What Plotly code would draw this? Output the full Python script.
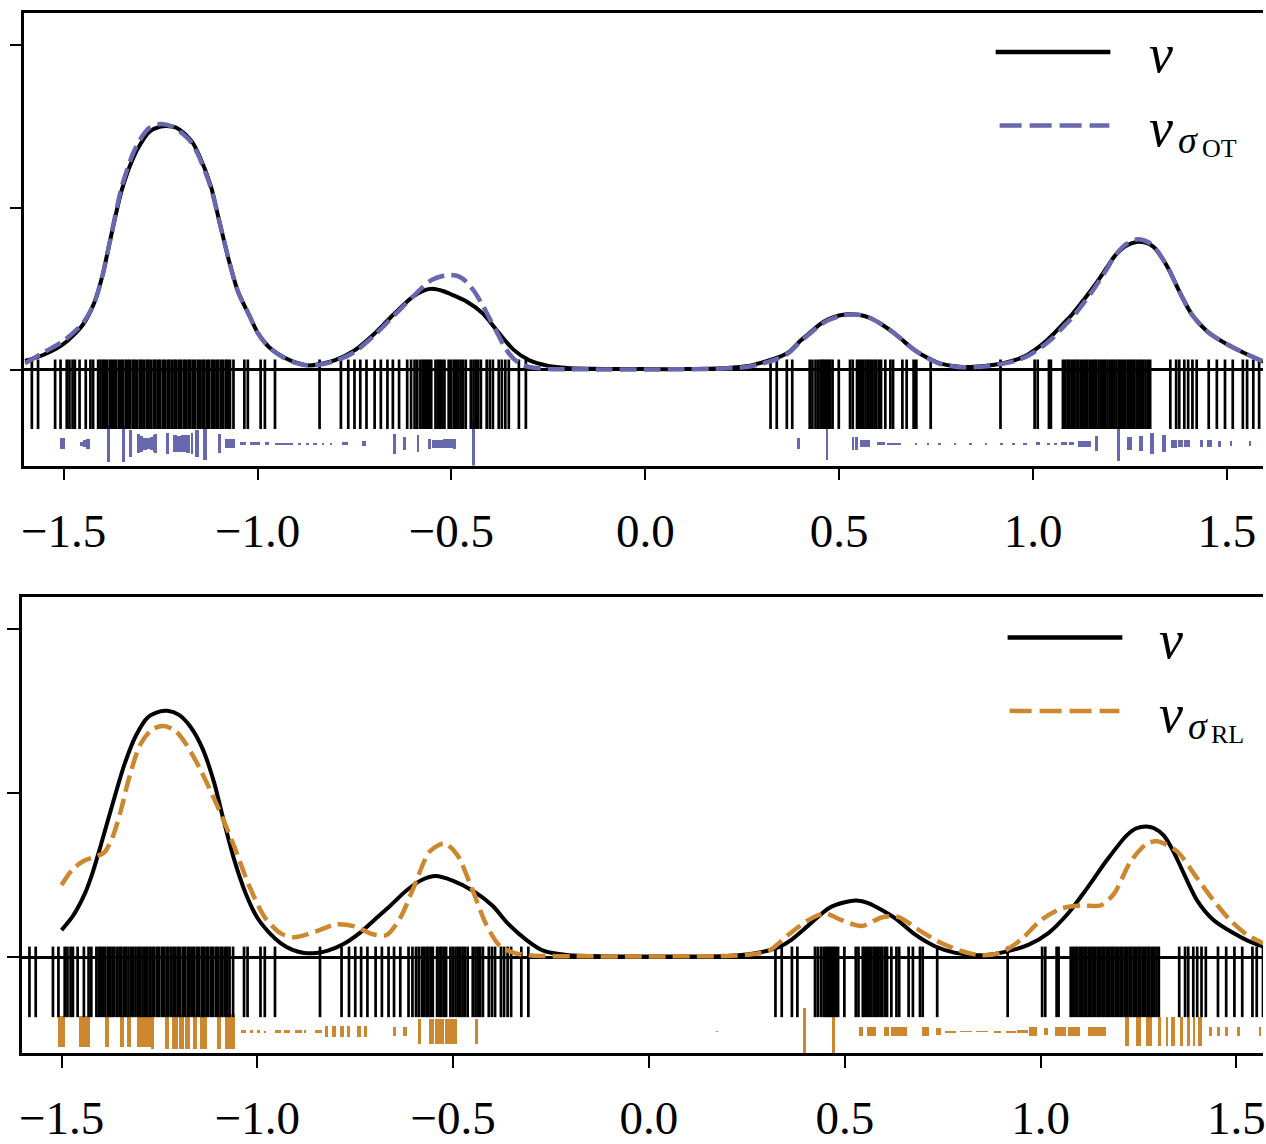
import plotly.graph_objects as go

# ---------------- data ----------------
xtick_vals = [-1.5, -1.0, -0.5, 0.0, 0.5, 1.0, 1.5]
xtick_text = ["\u22121.5", "\u22121.0", "\u22120.5", "0.0", "0.5", "1.0", "1.5"]
ytick_vals = [0, 1, 2]

# samples of nu (black rug, same in both panels)
rug_samples = [
    -1.582, -1.566, -1.522, -1.508, -1.492, -1.485, -1.477, -1.471, -1.459, -1.443, -1.431, -1.424, -1.411,
    -1.405, -1.399, -1.394, -1.388, -1.381, -1.376, -1.370, -1.365, -1.358, -1.352, -1.347, -1.340, -1.335,
    -1.329, -1.322, -1.317, -1.311, -1.304, -1.299, -1.293, -1.286, -1.281, -1.275, -1.268, -1.263, -1.256,
    -1.251, -1.244, -1.239, -1.232, -1.227, -1.220, -1.214, -1.209, -1.202, -1.197, -1.190, -1.185, -1.178,
    -1.173, -1.166, -1.161, -1.154, -1.149, -1.142, -1.137, -1.130, -1.125, -1.118, -1.113, -1.106, -1.101,
    -1.094, -1.089, -1.082, -1.077, -1.071,
    -1.062, -1.034, -1.025, -0.992, -0.981, -0.955,
    -0.840, -0.785, -0.766, -0.750, -0.735, -0.719, -0.698, -0.682, -0.665, -0.651, -0.635, -0.614, -0.604,
    -0.595, -0.588, -0.580, -0.574, -0.568, -0.563, -0.557, -0.552, -0.541, -0.535, -0.530, -0.524, -0.518,
    -0.507, -0.501, -0.494, -0.488, -0.482, -0.476, -0.470, -0.463, -0.450, -0.443, -0.437, -0.431, -0.424,
    -0.409, -0.401, -0.393, -0.378, -0.370, -0.361, -0.352, -0.326, -0.308,
    0.323, 0.339, 0.365, 0.379, 0.424, 0.431, 0.439, 0.446, 0.452, 0.457, 0.462, 0.467, 0.472, 0.477, 0.483,
    0.499, 0.528, 0.535,
    0.546, 0.551, 0.557, 0.562, 0.568, 0.574, 0.579, 0.585, 0.591, 0.596, 0.603, 0.608, 0.619, 0.632, 0.639,
    0.663, 0.674, 0.692, 0.699, 0.736,
    0.916, 1.004, 1.012, 1.041, 1.046,
    1.077, 1.083, 1.089, 1.094, 1.100, 1.106, 1.112, 1.117, 1.123, 1.129, 1.135, 1.140, 1.146, 1.152, 1.158,
    1.163, 1.169, 1.175, 1.181, 1.186, 1.192, 1.198, 1.204, 1.209, 1.215, 1.221, 1.227, 1.232, 1.238, 1.244,
    1.250, 1.255, 1.261, 1.267, 1.273, 1.278, 1.284, 1.290, 1.296, 1.302,
    1.354, 1.369, 1.377, 1.390, 1.400, 1.411, 1.422, 1.453, 1.474, 1.495, 1.515, 1.541, 1.552, 1.568, 1.583,
]

# top panel: density of nu
top_nu_x = [-1.60, -1.55, -1.50, -1.45, -1.42, -1.40, -1.38, -1.35, -1.32, -1.30, -1.28, -1.25, -1.22, -1.20,
            -1.17, -1.15, -1.12, -1.10, -1.07, -1.05, -1.02, -1.00, -0.97, -0.93, -0.90, -0.87, -0.84, -0.80,
            -0.75, -0.70, -0.65, -0.60, -0.57, -0.55, -0.52, -0.50, -0.46, -0.42, -0.38, -0.34, -0.30, -0.25,
            -0.20, -0.10, 0.00, 0.10, 0.20, 0.26, 0.30, 0.34, 0.37, 0.40, 0.42, 0.45, 0.47, 0.50, 0.52, 0.55,
            0.58, 0.61, 0.64, 0.66, 0.69, 0.71, 0.74, 0.76, 0.80, 0.82, 0.85, 0.88, 0.92, 0.95, 0.98, 1.00,
            1.03, 1.05, 1.08, 1.10, 1.13, 1.16, 1.19, 1.21, 1.24, 1.27, 1.29, 1.31, 1.33, 1.35, 1.38, 1.41,
            1.45, 1.50, 1.55, 1.60]
top_nu_y = [0.055, 0.095, 0.16, 0.28, 0.42, 0.58, 0.80, 1.11, 1.31, 1.40, 1.465, 1.50, 1.50, 1.48,
            1.41, 1.32, 1.13, 0.93, 0.64, 0.48, 0.33, 0.23, 0.14, 0.075, 0.045, 0.028, 0.035, 0.06,
            0.12, 0.22, 0.34, 0.45, 0.49, 0.50, 0.485, 0.465, 0.42, 0.35, 0.235, 0.125, 0.06, 0.025,
            0.012, 0.006, 0.005, 0.005, 0.01, 0.022, 0.045, 0.075, 0.11, 0.18, 0.22, 0.28, 0.31, 0.335, 0.343, 0.34,
            0.32, 0.28, 0.23, 0.19, 0.13, 0.098, 0.06, 0.04, 0.022, 0.018, 0.02, 0.025, 0.04, 0.058, 0.085, 0.115,
            0.17, 0.215, 0.29, 0.34, 0.43, 0.525, 0.63, 0.70, 0.765, 0.79, 0.785, 0.76, 0.70, 0.62, 0.47, 0.34,
            0.235, 0.158, 0.098, 0.045]

# top panel: density of nu_sigma_OT
top_ot_x = [-1.60, -1.55, -1.50, -1.45, -1.42, -1.40, -1.38, -1.35, -1.32, -1.30, -1.28, -1.25, -1.22, -1.20,
            -1.17, -1.15, -1.12, -1.10, -1.07, -1.05, -1.02, -1.00, -0.97, -0.93, -0.90, -0.87, -0.84, -0.80,
            -0.75, -0.70, -0.65, -0.60, -0.57, -0.55, -0.52, -0.50, -0.48, -0.46, -0.44, -0.42, -0.40, -0.38,
            -0.36, -0.34, -0.32, -0.30, -0.25, -0.20, -0.10, 0.00, 0.10, 0.20, 0.26, 0.30, 0.34, 0.37, 0.40,
            0.42, 0.45, 0.47, 0.50, 0.52, 0.55, 0.58, 0.61, 0.64, 0.66, 0.69, 0.71, 0.74, 0.76, 0.80, 0.82,
            0.85, 0.88, 0.92, 0.95, 0.98, 1.00, 1.03, 1.05, 1.08, 1.10, 1.13, 1.16, 1.19, 1.21, 1.24, 1.27,
            1.29, 1.31, 1.33, 1.35, 1.38, 1.41, 1.45, 1.50, 1.55, 1.60]
top_ot_y = [0.04, 0.11, 0.18, 0.29, 0.42, 0.58, 0.80, 1.13, 1.34, 1.43, 1.49, 1.515, 1.50, 1.47,
            1.40, 1.31, 1.12, 0.93, 0.64, 0.48, 0.33, 0.23, 0.14, 0.072, 0.042, 0.027, 0.032, 0.055,
            0.11, 0.21, 0.33, 0.45, 0.52, 0.555, 0.58, 0.585, 0.575, 0.54, 0.48, 0.40, 0.31, 0.22,
            0.13, 0.07, 0.035, 0.018, 0.006, 0.004, 0.003, 0.003, 0.004, 0.008, 0.018, 0.038, 0.068, 0.105, 0.175,
            0.215, 0.275, 0.305, 0.33, 0.34, 0.34, 0.32, 0.28, 0.23, 0.19, 0.13, 0.098, 0.058, 0.038, 0.02, 0.016,
            0.018, 0.023, 0.037, 0.053, 0.078, 0.105, 0.155, 0.195, 0.27, 0.32, 0.41, 0.51, 0.62, 0.70, 0.775, 0.805,
            0.795, 0.765, 0.70, 0.62, 0.47, 0.34, 0.235, 0.158, 0.098, 0.045]

# bottom panel: density of nu
bot_nu_x = [-1.50, -1.47, -1.44, -1.42, -1.40, -1.37, -1.34, -1.31, -1.28, -1.25, -1.23, -1.20, -1.17, -1.14,
            -1.11, -1.09, -1.06, -1.03, -1.00, -0.97, -0.94, -0.91, -0.88, -0.85, -0.82, -0.78, -0.74, -0.70,
            -0.66, -0.62, -0.58, -0.545, -0.50, -0.45, -0.40, -0.36, -0.31, -0.27, -0.21, -0.10, 0.00, 0.10,
            0.20, 0.25, 0.30, 0.33, 0.36, 0.41, 0.46, 0.50, 0.53, 0.56, 0.60, 0.63, 0.68, 0.73, 0.78, 0.84,
            0.90, 0.97, 1.02, 1.07, 1.12, 1.17, 1.22, 1.245, 1.27, 1.29, 1.315, 1.34, 1.36, 1.40, 1.44, 1.49,
            1.53, 1.57, 1.60]
bot_nu_y = [0.165, 0.255, 0.39, 0.52, 0.68, 0.93, 1.17, 1.35, 1.46, 1.495, 1.50, 1.475, 1.40, 1.27,
            1.06, 0.87, 0.60, 0.39, 0.24, 0.15, 0.085, 0.045, 0.026, 0.026, 0.04, 0.08, 0.145, 0.23,
            0.315, 0.405, 0.47, 0.494, 0.465, 0.405, 0.315, 0.205, 0.10, 0.04, 0.013, 0.005, 0.004, 0.004,
            0.008, 0.016, 0.038, 0.06, 0.10, 0.20, 0.30, 0.335, 0.345, 0.33, 0.28, 0.235, 0.137, 0.067, 0.028, 0.012,
            0.028, 0.077, 0.147, 0.266, 0.424, 0.593, 0.742, 0.785, 0.796, 0.785, 0.74, 0.64, 0.54, 0.345, 0.23, 0.15,
            0.10, 0.065, 0.045]

# bottom panel: density of nu_sigma_RL
bot_rl_x = [-1.50, -1.47, -1.44, -1.41, -1.39, -1.37, -1.35, -1.33, -1.30, -1.27, -1.24, -1.21, -1.18, -1.145,
            -1.10, -1.06, -1.02, -0.98, -0.94, -0.905, -0.85, -0.80, -0.75, -0.705, -0.67, -0.635, -0.60, -0.56,
            -0.523, -0.49, -0.45, -0.415, -0.38, -0.34, -0.30, -0.20, 0.00, 0.20, 0.25, 0.305, 0.356, 0.407,
            0.45, 0.492, 0.543, 0.594, 0.636, 0.695, 0.746, 0.797, 0.848, 0.899, 0.95, 1.001, 1.052, 1.103,
            1.153, 1.187, 1.23, 1.272, 1.298, 1.349, 1.399, 1.442, 1.484, 1.527, 1.567, 1.60]
bot_rl_y = [0.44, 0.54, 0.59, 0.615, 0.64, 0.73, 0.88, 1.07, 1.29, 1.385, 1.407, 1.38, 1.29, 1.14,
            0.91, 0.68, 0.43, 0.24, 0.145, 0.121, 0.157, 0.20, 0.187, 0.14, 0.135, 0.24, 0.43, 0.643,
            0.693, 0.625, 0.405, 0.196, 0.067, 0.024, 0.01, 0.006, 0.005, 0.008, 0.015, 0.038, 0.137, 0.226,
            0.266, 0.226, 0.19, 0.242, 0.246, 0.157, 0.087, 0.038, 0.012, 0.028, 0.107, 0.226, 0.296, 0.315,
            0.315, 0.385, 0.583, 0.692, 0.706, 0.643, 0.484, 0.345, 0.226, 0.137, 0.087, 0.06]

# weighted support points of nu_sigma_OT: position, extent along x, mass
ot_x = [-1.501, -1.452, -1.444, -1.436, -1.383, -1.345, -1.326, -1.305, -1.297, -1.289, -1.281, -1.273, -1.266,
        -1.261, -1.231, -1.212, -1.201, -1.189, -1.178, -1.167, -1.155, -1.135, -1.097, -1.070, -1.036, -1.005,
        -0.975, -0.930, -0.890, -0.870, -0.850, -0.830, -0.810, -0.774, -0.725, -0.646, -0.619, -0.585, -0.555,
        -0.535, -0.507, -0.491, -0.442,
        0.397, 0.470, 0.537, 0.546, 0.568, 0.610, 0.642, 0.700, 0.730, 0.760, 0.800, 0.840, 0.880, 0.920, 0.950,
        0.980, 1.015, 1.040, 1.060, 1.080, 1.100, 1.134, 1.165, 1.222, 1.250, 1.279, 1.308, 1.339, 1.365, 1.381,
        1.398, 1.435, 1.456, 1.482, 1.512, 1.560]
ot_span = [0.014, 0.008, 0.008, 0.008, 0.007, 0.007, 0.007, 0.008, 0.008, 0.008, 0.008, 0.008, 0.007,
           0.005, 0.007, 0.011, 0.011, 0.012, 0.008, 0.006, 0.009, 0.011, 0.008, 0.025, 0.016, 0.026,
           0.010, 0.045, 0.008, 0.008, 0.010, 0.006, 0.006, 0.016, 0.010, 0.008, 0.008, 0.007, 0.009,
           0.028, 0.028, 0.006, 0.006,
           0.007, 0.007, 0.006, 0.006, 0.024, 0.020, 0.035, 0.006, 0.006, 0.008, 0.006, 0.006, 0.006, 0.008, 0.008,
           0.010, 0.010, 0.008, 0.008, 0.015, 0.012, 0.032, 0.008, 0.007, 0.012, 0.011, 0.009, 0.009, 0.014, 0.014,
           0.016, 0.009, 0.011, 0.008, 0.006, 0.006]
ot_mass = [0.065, 0.025, 0.04, 0.06, 0.23, 0.22, 0.165, 0.12, 0.10, 0.075, 0.065, 0.08, 0.105,
           0.12, 0.128, 0.105, 0.10, 0.105, 0.11, 0.13, 0.165, 0.205, 0.118, 0.055, 0.02, 0.02,
           0.015, 0.01, 0.006, 0.006, 0.006, 0.005, 0.005, 0.015, 0.03, 0.124, 0.081, 0.105, 0.06,
           0.05, 0.055, 0.06, 0.29,
           0.07, 0.20, 0.08, 0.08, 0.04, 0.02, 0.012, 0.008, 0.006, 0.006, 0.005, 0.005, 0.005, 0.006, 0.008,
           0.008, 0.015, 0.01, 0.012, 0.02, 0.02, 0.038, 0.09, 0.217, 0.081, 0.09, 0.128, 0.105, 0.05, 0.04,
           0.045, 0.04, 0.04, 0.035, 0.03, 0.03]

# weighted support points of nu_sigma_RL
rl_x = [-1.4995, -1.441, -1.384, -1.346, -1.327, -1.290, -1.268, -1.2315, -1.210, -1.193, -1.178, -1.160,
        -1.138, -1.099, -1.070, -1.036, -1.015, -0.998, -0.980, -0.948, -0.925, -0.895, -0.878, -0.845,
        -0.824, -0.805, -0.784, -0.768, -0.740, -0.7235, -0.649, -0.623, -0.586, -0.555, -0.535, -0.510,
        -0.495, -0.440,
        0.175, 0.397, 0.4715, 0.5415, 0.568, 0.607, 0.638, 0.706, 0.740, 0.770, 0.810, 0.850, 0.890, 0.925,
        0.953, 0.981, 1.013, 1.051, 1.0845, 1.1435, 1.2215, 1.2505, 1.2775, 1.304, 1.323, 1.338, 1.359,
        1.377, 1.392, 1.407, 1.435, 1.455, 1.475, 1.506, 1.560]
rl_span = [0.019, 0.027, 0.010, 0.010, 0.010, 0.036, 0.008, 0.011, 0.016, 0.012, 0.012, 0.010,
           0.018, 0.010, 0.026, 0.014, 0.010, 0.008, 0.004, 0.016, 0.016, 0.020, 0.006, 0.018,
           0.007, 0.010, 0.008, 0.008, 0.009, 0.007, 0.008, 0.008, 0.008, 0.014, 0.022, 0.022,
           0.008, 0.008,
           0.003, 0.008, 0.008, 0.012, 0.022, 0.014, 0.040, 0.018, 0.012, 0.030, 0.030, 0.030, 0.020, 0.025,
           0.028, 0.021, 0.010, 0.026, 0.031, 0.047, 0.011, 0.013, 0.015, 0.007, 0.006, 0.009, 0.007,
           0.007, 0.007, 0.008, 0.008, 0.007, 0.008, 0.008, 0.006]
rl_mass = [0.19, 0.19, 0.19, 0.19, 0.19, 0.19, 0.215, 0.21, 0.21, 0.21, 0.21, 0.21,
           0.21, 0.21, 0.21, 0.024, 0.02, 0.02, 0.012, 0.02, 0.02, 0.018, 0.015, 0.02,
           0.065, 0.065, 0.065, 0.065, 0.065, 0.065, 0.06, 0.06, 0.15, 0.15, 0.15, 0.15,
           0.15, 0.15,
           0.006, 0.29, 0.29, 0.05, 0.05, 0.05, 0.05, 0.05, 0.04, 0.008, 0.006, 0.006, 0.008, 0.01,
           0.02, 0.05, 0.04, 0.05, 0.05, 0.05, 0.177, 0.177, 0.177, 0.177, 0.177, 0.177, 0.177,
           0.177, 0.177, 0.177, 0.06, 0.06, 0.06, 0.06, 0.06]

for a, b in [(top_nu_x, top_nu_y), (top_ot_x, top_ot_y), (bot_nu_x, bot_nu_y), (bot_rl_x, bot_rl_y),
             (ot_x, ot_span), (ot_x, ot_mass), (rl_x, rl_span), (rl_x, rl_mass)]:
    assert len(a) == len(b), (len(a), len(b))

# ---------------- layout / style ----------------
W, H = 1266, 1144
ML, MR, MT, MB = 22, 0, 13, 67
PW, PH = W - ML - MR, H - MT - MB

OT_COLOR = "#6868AE"
RL_COLOR = "#CD872E"
SERIF = "Liberation Serif"

TOP_DOM_X = [0.002, 1.0]
TOP_DOM_Y = [0.5648, 1.0]
BOT_DOM_Y = [0.0, 0.438]
TOP_YR = [-0.59, 2.20]
BOT_YR = [-0.583, 2.19]
TOP_XR = [-1.601, 1.593]
BOT_XR = [-1.601, 1.568]

RUG_TOP, RUG_BOTTOM = 0.0, -0.30
MASS_CENTER = -0.455
CURVE_DASH = "17px,7px"
LEGEND_DASH = "22px,8px"

fig = go.Figure()


def ppu(dom, yr):
    return PH * (dom[1] - dom[0]) / (yr[1] - yr[0])


panels = [
    dict(xa="x", ya="y", dom=TOP_DOM_Y, yr=TOP_YR, nux=top_nu_x, nuy=top_nu_y, sx=top_ot_x, sy=top_ot_y,
         mx=ot_x, mw=ot_span, mm=ot_mass, color=OT_COLOR),
    dict(xa="x2", ya="y2", dom=BOT_DOM_Y, yr=BOT_YR, nux=bot_nu_x, nuy=bot_nu_y, sx=bot_rl_x, sy=bot_rl_y,
         mx=rl_x, mw=rl_span, mm=rl_mass, color=RL_COLOR),
]

for p in panels:
    k = ppu(p["dom"], p["yr"])
    # rug of samples
    fig.add_trace(go.Scatter(
        x=rug_samples, y=[(RUG_TOP + RUG_BOTTOM) / 2] * len(rug_samples),
        mode="markers", xaxis=p["xa"], yaxis=p["ya"], hoverinfo="skip", showlegend=False,
        marker=dict(symbol="line-ns", size=(RUG_TOP - RUG_BOTTOM) * k, color="black",
                    line=dict(width=2.7, color="black"))))
    # weighted points
    fig.add_trace(go.Bar(
        x=p["mx"], y=p["mm"], width=p["mw"], base=[MASS_CENTER - m / 2 for m in p["mm"]],
        xaxis=p["xa"], yaxis=p["ya"], marker=dict(color=p["color"], line=dict(width=0)),
        hoverinfo="skip", showlegend=False))
    # densities
    fig.add_trace(go.Scatter(
        x=p["nux"], y=p["nuy"], mode="lines", xaxis=p["xa"], yaxis=p["ya"], showlegend=False,
        line=dict(color="black", width=4, shape="spline", smoothing=0.8)))
    fig.add_trace(go.Scatter(
        x=p["sx"], y=p["sy"], mode="lines", xaxis=p["xa"], yaxis=p["ya"], showlegend=False,
        line=dict(color=p["color"], width=4.5, dash=CURVE_DASH, shape="spline", smoothing=0.8)))

axis_common = dict(showline=True, linecolor="black", linewidth=2.5, ticks="outside", ticklen=12,
                   tickwidth=2, tickcolor="black", showgrid=False)
xfont = dict(family=SERIF, size=47, color="black")

fig.update_layout(
    width=W, height=H, margin=dict(l=ML, r=MR, t=MT, b=MB),
    paper_bgcolor="white", plot_bgcolor="white", barmode="overlay", bargap=0,
    xaxis=dict(domain=TOP_DOM_X, anchor="y", range=TOP_XR, tickvals=xtick_vals, ticktext=xtick_text,
               tickfont=xfont, mirror=True, zeroline=False, ticklabelstandoff=10,
               ticklabeloverflow="allow", **axis_common),
    yaxis=dict(domain=TOP_DOM_Y, anchor="x", range=TOP_YR, tickvals=ytick_vals, showticklabels=False,
               zeroline=True, zerolinecolor="black", zerolinewidth=2.5, **axis_common),
    xaxis2=dict(domain=[0, 1], anchor="y2", range=BOT_XR, tickvals=xtick_vals, ticktext=xtick_text,
                tickfont=xfont, mirror=True, zeroline=False, ticklabelstandoff=10,
                ticklabeloverflow="allow", **axis_common),
    yaxis2=dict(domain=BOT_DOM_Y, anchor="x2", range=BOT_YR, tickvals=ytick_vals, showticklabels=False,
                zeroline=True, zerolinecolor="black", zerolinewidth=2.5, **axis_common),
)


def px2paper(px, py):
    return (px - ML) / PW, (H - MB - py) / PH


def legend_line(x0, x1, py, color, dash=None):
    a = px2paper(x0, py)
    b = px2paper(x1, py)
    fig.add_shape(type="line", xref="paper", yref="paper", x0=a[0], x1=b[0], y0=a[1], y1=b[1],
                  line=dict(color=color, width=4.5, dash=dash or "solid"))


def label(text, px, py, size):
    x, y = px2paper(px, py)
    fig.add_annotation(text=text, xref="paper", yref="paper", x=x, y=y, xanchor="left", yanchor="middle",
                       showarrow=False, font=dict(family=SERIF, size=size, color="black"))


# top legend
legend_line(998, 1113, 53, "black")
legend_line(1002, 1112, 128, OT_COLOR, LEGEND_DASH)
label("<i>\u03bd</i>", 1150, 55, 54)
label("<i>\u03bd</i>", 1150, 131, 54)
label("<i>\u03c3</i>", 1179, 143, 38)
label("OT", 1203, 152, 26)
# bottom legend
legend_line(1010, 1125, 652, "black")
legend_line(1012, 1122, 727, RL_COLOR, LEGEND_DASH)
label("<i>\u03bd</i>", 1160, 654, 54)
label("<i>\u03bd</i>", 1160, 730, 54)
label("<i>\u03c3</i>", 1189, 742, 38)
label("RL", 1212, 751, 26)

fig.write_html("out.html", config={"displayModeBar": False},
               post_script="document.body.style.margin='0';document.body.style.overflow='hidden';")
